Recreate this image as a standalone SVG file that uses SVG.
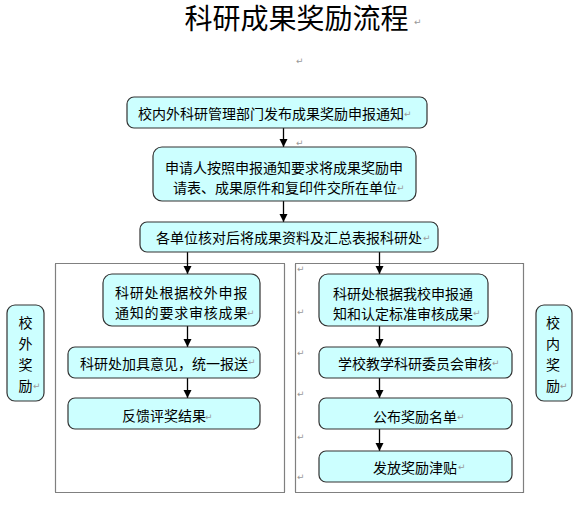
<svg xmlns="http://www.w3.org/2000/svg" width="585" height="517" viewBox="0 0 585 517">
<style>
text{font-family:"Noto Sans CJK SC","Noto Sans",sans-serif;fill:#000;}
.t{font-size:14px;dominant-baseline:central;}
.ttl{font-size:28px;dominant-baseline:central;}
.pm{font-family:"DejaVu Sans",sans-serif;font-size:9px;fill:#999;dominant-baseline:central;}
.box{fill:#CCFFFF;stroke:#333;stroke-width:1.2;}
.dot{fill:none;stroke:#000;stroke-width:1.2;stroke-dasharray:1 1;}
.con{stroke:#000;stroke-width:1.3;fill:none;marker-end:url(#ah);}
</style>
<defs>
<marker id="ah" markerUnits="userSpaceOnUse" markerWidth="9" markerHeight="9" refX="8" refY="4" orient="auto">
<path d="M0,0 L8,4 L0,8 z" fill="#000"/>
</marker>
</defs>
<rect width="585" height="517" fill="#fff"/>

<g id="title">
<text class="ttl" x="296.5" y="17" text-anchor="middle">科研成果奖励流程</text>
</g>

<g id="frames">
<rect class="dot" x="55.5" y="263.5" width="229" height="229"/>
<rect class="dot" x="295.5" y="263.5" width="228" height="229"/>
</g>

<g id="connectors">
<line class="con" x1="283.5" y1="128" x2="283.5" y2="147"/>
<line class="con" x1="283.5" y1="201" x2="283.5" y2="222"/>
<line class="con" x1="187.5" y1="252" x2="187.5" y2="274"/>
<line class="con" x1="379.5" y1="252" x2="379.5" y2="274"/>
<line class="con" x1="187.5" y1="326" x2="187.5" y2="347"/>
<line class="con" x1="187.5" y1="378" x2="187.5" y2="398"/>
<line class="con" x1="379.5" y1="326" x2="379.5" y2="347"/>
<line class="con" x1="379.5" y1="378" x2="379.5" y2="398"/>
<line class="con" x1="379.5" y1="429" x2="379.5" y2="451"/>
</g>

<g id="n1">
<rect class="box" x="127" y="97" width="300" height="31" rx="7"/>
<text class="t" x="138" y="112.5">校内外科研管理部门发布成果奖励申报通知</text>
</g>
<g id="n2">
<rect class="box" x="153" y="147" width="263" height="54" rx="9"/>
<text class="t" x="165" y="167">申请人按照申报通知要求将成果奖励申</text>
<text class="t" x="173" y="187">请表、成果原件和复印件交所在单位</text>
</g>
<g id="n3">
<rect class="box" x="140" y="222" width="298" height="30" rx="7"/>
<text class="t" x="156" y="237">各单位核对后将成果资料及汇总表报科研处</text>
</g>

<g id="L1">
<rect class="box" x="103" y="274" width="157" height="52" rx="9"/>
<text class="t" x="115" y="292" letter-spacing="0.8">科研处根据校外申报</text>
<text class="t" x="115" y="312" letter-spacing="0.8">通知的要求审核成果</text>
</g>
<g id="L2">
<rect class="box" x="68" y="347" width="192" height="31" rx="7"/>
<text class="t" x="80" y="362.5">科研处加具意见，统一报送</text>
</g>
<g id="L3">
<rect class="box" x="68" y="398" width="192" height="31" rx="7"/>
<text class="t" x="122" y="415">反馈评奖结果</text>
</g>

<g id="R1">
<rect class="box" x="319" y="274" width="169" height="52" rx="9"/>
<text class="t" x="333" y="292.5">科研处根据我校申报通</text>
<text class="t" x="333" y="313">知和认定标准审核成果</text>
</g>
<g id="R2">
<rect class="box" x="319" y="347" width="193" height="31" rx="7"/>
<text class="t" x="338" y="363">学校教学科研委员会审核</text>
</g>
<g id="R3">
<rect class="box" x="319" y="398" width="193" height="31" rx="7"/>
<text class="t" x="373" y="415.5">公布奖励名单</text>
</g>
<g id="R4">
<rect class="box" x="319" y="451" width="193" height="31" rx="7"/>
<text class="t" x="373" y="467">发放奖励津贴</text>
</g>

<g id="sideL">
<rect class="box" x="7" y="305" width="37" height="96" rx="8"/>
<text class="t" x="25.5" y="322" text-anchor="middle">校</text>
<text class="t" x="25.5" y="343" text-anchor="middle">外</text>
<text class="t" x="25.5" y="364" text-anchor="middle">奖</text>
<text class="t" x="25.5" y="385" text-anchor="middle">励</text>
</g>
<g id="sideR">
<rect class="box" x="536" y="305" width="36" height="96" rx="8"/>
<text class="t" x="553" y="322" text-anchor="middle">校</text>
<text class="t" x="553" y="343" text-anchor="middle">内</text>
<text class="t" x="553" y="364" text-anchor="middle">奖</text>
<text class="t" x="553" y="385" text-anchor="middle">励</text>
</g>

<g id="marks">
<text class="pm" x="414" y="22">↵</text>
<text class="pm" x="296" y="61">↵</text>
<text class="pm" x="404" y="114">↵</text>
<text class="pm" x="296" y="143">↵</text>
<text class="pm" x="397" y="188">↵</text>
<text class="pm" x="423" y="238">↵</text>
<text class="pm" x="247" y="313">↵</text>
<text class="pm" x="248" y="362">↵</text>
<text class="pm" x="205" y="417">↵</text>
<text class="pm" x="33" y="386">↵</text>
<text class="pm" x="473" y="313">↵</text>
<text class="pm" x="492" y="363">↵</text>
<text class="pm" x="457" y="417">↵</text>
<text class="pm" x="458" y="467">↵</text>
<text class="pm" x="560" y="386">↵</text>
<text class="pm" x="297" y="269">↵</text>
<text class="pm" x="297" y="312">↵</text>
<text class="pm" x="297" y="353">↵</text>
<text class="pm" x="297" y="394">↵</text>
<text class="pm" x="297" y="437">↵</text>
<text class="pm" x="297" y="477">↵</text>
</g>
</svg>
